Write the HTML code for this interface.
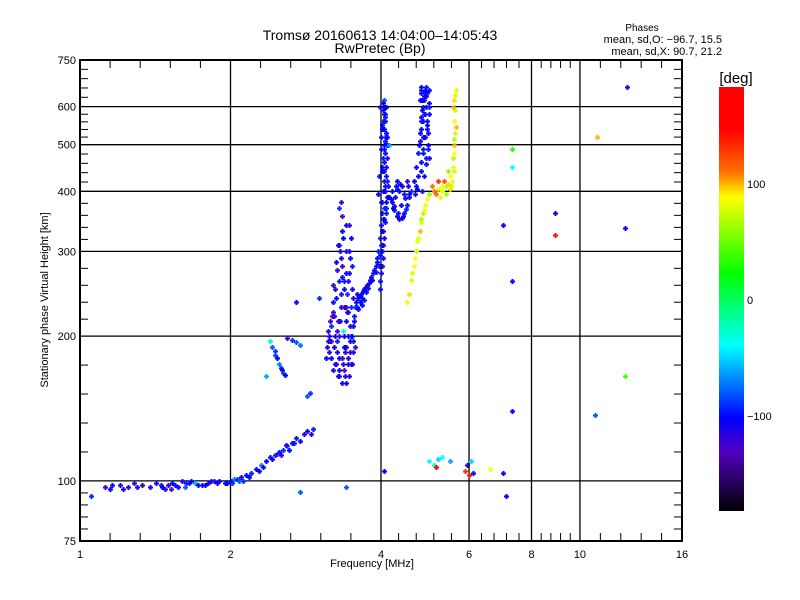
<!DOCTYPE html>
<html><head><meta charset="utf-8"><style>
body{margin:0;background:#fff;}
svg{display:block;font-family:"Liberation Sans",sans-serif;}
</style></head><body>
<svg id="chart" width="800" height="600" viewBox="0 0 800 600" xmlns="http://www.w3.org/2000/svg">
<defs>
<linearGradient id="cmap" x1="0" y1="0" x2="0" y2="1">
<stop offset="0" stop-color="#ff0000"/><stop offset="0.1" stop-color="#ff0000"/>
<stop offset="0.2" stop-color="#ff7000"/><stop offset="0.26" stop-color="#ffff00"/>
<stop offset="0.44" stop-color="#00ff00"/><stop offset="0.61" stop-color="#00ffff"/>
<stop offset="0.78" stop-color="#0000ff"/><stop offset="0.86" stop-color="#5000c0"/>
<stop offset="1" stop-color="#000000"/>
</linearGradient>
</defs>
<g id="grid"></g>
<g id="marks"></g>
<rect x="80" y="60" width="602" height="481" fill="none" stroke="#000" stroke-width="2"/>
<g id="axes"></g>
<text x="380" y="40" font-size="14" text-anchor="middle">Tromsø 20160613 14:04:00–14:05:43</text>
<text x="380" y="53" font-size="14" text-anchor="middle">RwPretec (Bp)</text>
<text x="642" y="31" font-size="10" text-anchor="middle">Phases</text>
<text x="722" y="43" font-size="11" text-anchor="end">mean, sd,O: −96.7, 15.5</text>
<text x="722" y="55" font-size="11" text-anchor="end">mean, sd,X:  90.7, 21.2</text>
<text x="372" y="567" font-size="11" text-anchor="middle">Frequency [MHz]</text>
<text transform="translate(48,300) rotate(-90)" font-size="11" text-anchor="middle">Stationary phase Virtual Height [km]</text>
<rect x="719" y="87" width="25" height="424" fill="url(#cmap)"/>
<text x="736" y="83" font-size="15" text-anchor="middle">[deg]</text>
<g id="cbticks"></g>
</svg>
<script>
const xMajor=[1,2,4,6,8,10,16];
const xLabels=["1","2","4","6","8","10","16"];
const yMajor=[75,100,200,300,400,500,600,750];
const yLabels=["75","100","200","300","400","500","600","750"];
const cbValues=[100,0,-100];
const cbLabels=["100","0","−100"];

// E layer trace
const eF=[1.05,1.12,1.15,1.2,1.22,1.28,1.3,1.33,1.38,1.42,1.45,1.48,1.5,1.53,1.57,1.6,1.63,1.67,1.7,1.75,1.8,1.85,1.9,1.95,2.0,2.03,2.06,2.1,2.15,2.2,2.25,2.3,2.35,2.4,2.45,2.5,2.55,2.6,2.65,2.7,2.75,2.8,1.52,1.62,1.78,1.88,2.12,2.28,2.52,1.16,1.25,1.46,1.55,1.65,1.72,1.83,1.97,2.01,2.08,2.18,2.32,2.42,2.48,2.58,2.62,2.68];
const eH=[93,97,96,98,96,99,97,98,97,99,98,96,98,99,97,100,99,100,99,98,99,100,100,99,100,101,101,102,103,104,106,108,110,112,113,115,116,118,120,123,121,125,96,97,98,99,100,105,113,98,97,97,98,99,98,100,99,99,100,102,107,111,114,119,116,120];
const eP=[-90,-120,-100,-115,-110,-120,-105,-140,-110,-100,-110,-95,-120,-100,-105,-110,-95,-100,-60,-100,-110,-95,-100,-105,-100,-70,-90,-110,-100,-95,-110,-70,-100,-105,-120,-100,-90,-70,-110,-95,-100,-110,-130,-80,-100,-110,-90,-100,-120,-100,-110,-100,-95,-105,-100,-110,-100,-90,-80,-100,-110,-100,-90,-110,-100,-95];
// F1 fragments
const f1F=[2.42,2.45,2.48,2.5,2.52,2.55,2.57,2.4,2.6,2.65,2.7,2.75,2.35,2.7,2.75,2.85,2.88,2.85,2.9,2.92,2.46,2.54];
const f1H=[190,186,180,175,172,168,166,195,198,196,194,192,165,235,95,150,152,127,125,128,183,170];
const f1P=[-80,-90,-100,-70,-110,-80,-100,-20,-120,-90,-80,-75,-60,-80,-70,-80,-90,-100,-110,-95,-85,-95];
// F2 O-mode cloud
const oF=[3.15,3.15,3.2,3.18,3.2,3.25,3.22,3.25,3.28,3.3,3.3,3.3,3.32,3.35,3.3,3.33,3.35,3.38,3.4,3.4,3.42,3.45,3.45,3.48,3.5,3.5,3.45,3.38,3.4,3.45,3.5,3.55,3.52,3.55,3.6,3.65,3.7,3.75,3.8,3.85,3.9,3.95,3.98,3.28,3.36,3.42,3.47,3.33,3.25,3.18,3.5,3.43,3.37,3.3,3.22,3.35,3.48,3.52,3.4,
3.12,3.14,3.17,3.19,3.21,3.23,3.26,3.27,3.29,3.31,3.34,3.36,3.37,3.39,3.41,3.43,3.44,3.46,3.47,3.49,3.51,3.53,3.56,3.58,3.62,3.68,3.72,3.78,3.82,3.88,3.92,3.26,3.31,3.36,3.41,3.2,3.29,3.39,3.44,3.35,
3.1,3.13,3.16,3.24,3.32,3.38,3.44,3.54,3.58,3.63,3.66,3.7,3.74,3.77,3.84,3.9,3.93,3.23,3.34,3.46,3.28,3.4,3.52,3.6,3.66,3.15,3.27,3.37,3.49,
4.0,4.02,4.0,4.03,4.05,4.02,4.05,4.07,4.05,4.08,4.06,4.08,4.07,4.09,4.05,3.98,4.0,4.02,4.1,4.12,4.1,4.12,4.0,3.97,3.95,4.04,4.06,4.03,4.08,4.01,4.1,4.04,
3.99,4.01,4.03,4.04,4.06,4.07,4.09,4.11,4.13,3.96,3.98,4.0,4.02,4.04,4.06,4.08,4.1,4.12,4.01,4.03,4.05,4.07,4.09,4.0,4.02,4.04,4.06,4.08,3.99,4.03,4.07,4.11,4.02,4.06,
4.15,4.2,4.25,4.3,4.35,4.4,4.45,4.5,4.55,4.6,4.35,4.3,4.4,4.45,4.22,4.28,4.38,4.5,4.18,4.24,4.32,4.42,4.48,4.56,4.26,4.36,4.46,4.2,4.3,4.52,
4.65,4.7,4.75,4.78,4.8,4.82,4.85,4.88,4.9,4.95,4.98,5.0,4.95,4.9,4.85,4.8,4.75,4.7,5.0,4.8,4.92,4.86,4.96,4.83,
4.77,4.79,4.81,4.84,4.87,4.89,4.91,4.93,4.97,4.99,4.82,4.86,4.9,4.94,4.98,4.8,4.84,4.88,4.92,4.96,4.85,4.89,4.93,4.78,4.82,4.88,4.94,4.72,4.68];
const oH=[200,185,170,210,225,240,190,175,165,180,200,260,290,330,370,380,160,170,190,215,245,300,340,320,280,250,270,230,160,165,175,190,210,230,240,245,250,255,262,270,280,300,320,215,205,225,195,245,285,195,200,180,250,310,220,355,230,185,270,
190,205,180,220,235,175,195,205,170,215,265,175,200,185,230,175,260,210,185,200,240,220,235,245,242,248,252,258,266,275,290,275,300,320,340,255,165,165,200,180,
180,195,215,200,230,260,225,215,230,235,240,238,247,252,262,272,285,250,280,290,310,300,195,228,232,195,185,190,175,
340,360,380,400,420,440,460,480,500,520,540,560,580,600,620,250,270,300,380,420,450,500,490,430,395,330,350,470,410,550,360,590,
260,280,290,310,320,345,370,390,410,280,295,310,330,350,370,400,430,470,450,470,490,510,530,520,540,560,580,600,600,610,570,520,380,440,
390,380,365,355,350,352,360,375,390,400,400,420,410,395,370,410,375,420,385,372,360,356,368,395,390,415,388,400,405,410,
420,450,480,510,540,570,600,630,650,640,610,580,550,520,490,460,430,410,650,650,470,560,500,620,
500,530,560,590,620,645,660,600,530,470,440,480,520,560,600,640,400,430,455,490,520,580,630,620,660,580,540,405,395];
const oP=[-100,-120,-110,-90,-130,-100,-110,-120,-100,-105,-125,-95,-110,-100,-90,-120,-100,-130,-110,-105,-90,-100,-120,-100,-95,-110,-100,-140,-105,-115,-100,-120,-100,-90,-110,-100,-95,-105,-100,-110,-100,-95,-105,-120,-30,-110,-100,-115,-105,-125,-95,-110,-100,-120,-100,-130,-90,-110,-100,
-110,-120,-100,-130,-105,-110,-95,-125,-100,-115,-105,-120,-100,-110,-130,-100,-115,-105,-120,-100,-110,-95,-100,-105,-100,-95,-100,-105,-100,-110,-100,-120,-110,-100,-105,-125,-115,-110,-100,-120,
-100,-110,-120,-100,-105,-95,-110,-100,-90,-100,-105,-95,-100,-110,-100,-95,-100,-110,-120,-100,-105,-110,-95,-100,-105,-120,-110,-100,-115,
-100,-95,-105,-100,-110,-95,-100,-105,-100,-90,-100,-110,-95,-100,-80,-100,-110,-105,-100,-95,-110,-100,-105,-95,-100,-100,-110,-90,-105,-100,-95,-110,
-100,-105,-95,-100,-110,-100,-95,-105,-100,-110,-100,-95,-105,-100,-90,-100,-105,-110,-100,-95,-100,-105,-110,-100,-100,-95,-105,-100,-110,-100,-95,-100,-105,-100,
-100,-110,-95,-100,-105,-110,-100,-95,-100,-90,-105,-100,-110,-95,-100,-105,-100,-120,-100,-105,-110,-100,-95,-100,-110,-100,-105,-100,-95,-110,
-100,-105,-95,-110,-100,-105,-95,-100,-110,-90,-100,-105,-100,-110,-95,-100,-105,-100,-110,-100,-95,-105,-100,-100,
-100,-105,-95,-100,-110,-100,-95,-105,-100,-110,-100,-95,-105,-100,-90,-100,-105,-110,-100,-95,-100,-105,-110,-100,-100,-95,-105,-100,-110];
// X-mode trace
const xF=[4.5,4.55,4.6,4.65,4.7,4.72,4.78,4.8,4.85,4.9,4.95,5.0,5.1,5.2,5.3,5.35,5.4,5.5,5.55,5.6,5.58,5.6,5.62,5.6,5.63,5.6,5.65,5.2,5.4,5.5,5.05,5.25,4.68,4.75,5.45,5.58,4.62,4.82,4.88,5.15,5.3,5.45,5.52,5.56,5.61,5.59,5.64,5.62];
const xH=[235,245,262,280,300,315,330,345,360,375,385,395,400,405,410,420,410,405,420,440,470,500,530,560,590,620,650,420,395,430,410,390,290,320,440,600,270,350,365,395,400,415,410,450,480,515,545,635];
const xP=[85,95,80,90,75,85,100,80,70,85,90,60,110,80,90,120,70,95,85,80,70,100,80,90,75,95,85,130,65,90,110,80,90,85,60,100,80,70,90,110,80,95,75,85,90,70,100,80];
// scattered echoes
const sF=[5.0,5.1,5.2,5.3,5.15,5.9,6.0,6.1,5.95,6.6,7.0,7.3,7.3,7.0,7.3,7.3,8.9,8.9,10.8,12.4,12.3,12.3,10.7,7.1,2.75,2.7,3.4,4.05,5.5,3.0,4.15,6.05];
const sH=[110,108,111,112,107,105,103,104,108,106,104,490,450,340,260,140,360,325,520,660,335,165,137,93,95,235,97,105,110,240,500,110];
const sP=[-40,-30,-50,-40,150,130,140,-100,-110,90,-100,30,-40,-100,-100,-100,-100,140,100,-110,-100,40,-80,-100,-80,-100,-80,-100,-60,-90,-60,-50];

const X0=80,X1=682,Y0=541,Y1=60;
const xs=f=>X0+(X1-X0)*Math.log(f)/Math.log(16);
const ys=h=>Y0-(Y0-Y1)*Math.log(h/75)/Math.log(10);
const NS='http://www.w3.org/2000/svg';
function mk(tag,attrs,parent){const e=document.createElementNS(NS,tag);for(const k in attrs)e.setAttribute(k,attrs[k]);parent.appendChild(e);return e;}
const grid=document.getElementById('grid'),axes=document.getElementById('axes'),marks=document.getElementById('marks'),cbt=document.getElementById('cbticks');

xMajor.forEach((v,i)=>{
  const x=xs(v);
  if(i>0&&i<xMajor.length-1){const l=mk('line',{x1:x,y1:Y1,x2:x,y2:Y0,stroke:'#000','stroke-width':1.3},grid);
  
  }
  const t=mk('text',{x:x,y:Y0+17,'font-size':11,'text-anchor':'middle'},axes);t.textContent=xLabels[i];
  
  
  if(i<xMajor.length-1){const a=Math.log(v),b=Math.log(xMajor[i+1]);
    for(let k=1;k<5;k++){const xm=xs(Math.exp(a+(b-a)*k/5));
      mk('line',{x1:xm,y1:Y0,x2:xm,y2:Y0-8,stroke:'#000'},axes);
      mk('line',{x1:xm,y1:Y1,x2:xm,y2:Y1+8,stroke:'#000'},axes);}}
});
yMajor.forEach((v,i)=>{
  const y=ys(v);
  if(i>0&&i<yMajor.length-1){const l=mk('line',{x1:X0,y1:y,x2:X1,y2:y,stroke:'#000','stroke-width':1.3},grid);
  
  }
  const t=mk('text',{x:X0-4,y:y+4,'font-size':11,'text-anchor':'end'},axes);t.textContent=yLabels[i];
  
  
  if(i<yMajor.length-1){const a=Math.log(v),b=Math.log(yMajor[i+1]);
    for(let k=1;k<5;k++){const ym=ys(Math.exp(a+(b-a)*k/5));
      mk('line',{x1:X0,y1:ym,x2:X0+8,y2:ym,stroke:'#000'},axes);
      mk('line',{x1:X1,y1:ym,x2:X1-8,y2:ym,stroke:'#000'},axes);}}
});
cbValues.forEach((v,i)=>{
  const y=300-v*1.16;
  const t=mk('text',{x:747,y:y+4,'font-size':11},cbt);t.textContent=cbLabels[i];
  
  
});
const stops=[[180,[255,0,0]],[145,[255,0,0]],[110,[255,112,0]],[90,[255,255,0]],[22,[0,255,0]],[-40,[0,255,255]],[-100,[0,0,255]],[-130,[80,0,192]],[-180,[0,0,0]]];
function color(p){for(let i=0;i<stops.length-1;i++){const[a,ca]=stops[i],[b,cb]=stops[i+1];
  if(p<=a&&p>=b){const t=(a-p)/(a-b);return 'rgb('+ca.map((c,j)=>Math.round(c+(cb[j]-c)*t)).join(',')+')';}}return '#000';}
function plot(F,H,P,name){
  for(let i=0;i<F.length;i++){const x=Math.round(xs(F[i])),y=Math.round(ys(H[i])),c=color(P[i]);
    const g=mk('path',{d:`M${x-2} ${y+0.5}h5M${x+0.5} ${y-2}v5`,stroke:c,'stroke-width':2,fill:'none'},marks);
    
    }
}
plot(eF,eH,eP,'e-layer-echo');
plot(f1F,f1H,f1P,'f1-echo');
plot(oF,oH,oP,'o-mode-echo');
plot(xF,xH,xP,'x-mode-echo');
plot(sF,sH,sP,'scattered-echo');
</script>
</body></html>
